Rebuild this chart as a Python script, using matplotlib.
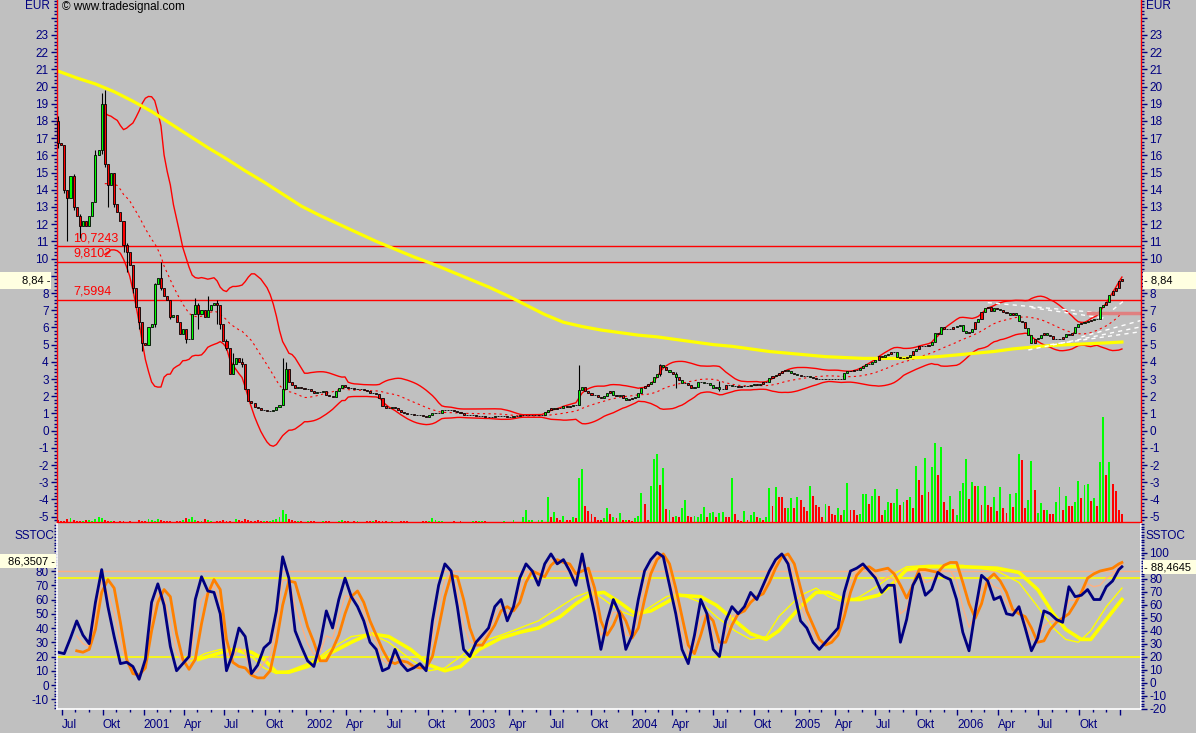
"""Tradesignal style weekly chart: candles, Bollinger bands, long average, volume and SSTOC panel."""

import matplotlib
matplotlib.use("Agg")
import matplotlib.dates as mdates
import matplotlib.pyplot as plt
import numpy as np
import pandas as pd
from matplotlib.patches import Rectangle
from matplotlib.ticker import FixedLocator, FuncFormatter, MultipleLocator
from matplotlib.transforms import blended_transform_factory

W, H = 1196, 733
BG = "#C0C0C0"
NAVY = "#000080"
UP = "#00FF00"
DOWN = "#FF0000"
FS = 8.5

plt.rcParams["font.family"] = ["Liberation Sans", "DejaVu Sans"]

# ---- data (weekly bars) ----
first_date = "2000-06-23"
first_open = 18.0
closes = [
    16.7, 16.6, 14.0, 13.5, 14.8, 13.0, 12.5, 11.9, 12.2, 11.9,
    12.5, 13.3, 16.0, 16.3, 19.0, 15.5, 14.3, 15.0, 13.2, 12.7,
    12.2, 10.8, 10.4, 9.6, 8.3, 7.2, 6.3, 5.1, 5.0, 6.0,
    6.2, 8.5, 8.9, 8.3, 7.8, 7.6, 6.6, 6.7, 6.3, 5.6,
    5.9, 5.3, 5.3, 6.8, 7.3, 6.8, 7.0, 6.6, 7.0, 7.3,
    7.4, 7.3, 6.2, 5.2, 4.8, 3.3, 3.9, 4.2, 4.0, 3.9,
    2.4, 1.7, 1.6, 1.4, 1.3, 1.2, 1.2, 1.15, 1.15, 1.2,
    1.35, 1.5, 2.4, 3.6, 2.8, 2.65, 2.5, 2.55, 2.5, 2.4,
    2.4, 2.3, 2.2, 2.25, 2.25, 2.3, 2.1, 2.0, 1.95, 2.3,
    2.5, 2.65, 2.55, 2.5, 2.45, 2.4, 2.4, 2.4, 2.35, 2.3,
    2.2, 2.2, 2.15, 1.9, 1.45, 1.3, 1.3, 1.35, 1.3, 1.2,
    1.1, 1.0, 0.95, 0.95, 0.9, 0.9, 0.9, 0.85, 0.8, 0.9,
    1.0, 1.0, 1.05, 1.2, 1.2, 1.2, 1.2, 1.15, 1.1, 1.0,
    0.9, 0.9, 0.9, 0.9, 0.85, 0.85, 0.85, 0.8, 0.8, 0.8,
    0.85, 0.85, 0.85, 0.85, 0.8, 0.8, 0.85, 0.85, 0.9, 0.9,
    0.9, 0.9, 0.9, 0.9, 0.9, 0.9, 1.1, 1.2, 1.3, 1.25,
    1.3, 1.3, 1.45, 1.4, 1.45, 1.5, 1.5, 2.35, 2.55, 2.3,
    2.2, 2.1, 2.1, 1.95, 1.9, 2.0, 2.2, 2.3, 2.1, 2.0,
    2.1, 1.9, 1.8, 1.85, 1.9, 1.95, 2.2, 2.5, 2.6, 2.7,
    2.8, 3.1, 3.3, 3.8, 3.7, 3.5, 3.4, 3.3, 3.1, 2.95,
    2.75, 2.75, 2.65, 2.45, 2.55, 2.85, 2.8, 2.75, 2.75, 2.65,
    2.45, 2.55, 2.4, 2.4, 2.65, 2.65, 2.6, 2.6, 2.55, 2.6,
    2.6, 2.6, 2.65, 2.7, 2.65, 2.7, 2.8, 2.85, 3.05, 3.15,
    3.25, 3.35, 3.45, 3.5, 3.45, 3.35, 3.3, 3.25, 3.15, 3.15,
    3.15, 3.1, 3.05, 3.0, 3.0, 3.0, 3.0, 3.0, 3.0, 3.0,
    3.0, 3.0, 3.35, 3.45, 3.45, 3.5, 3.55, 3.65, 3.75, 3.85,
    3.9, 4.0, 4.1, 4.35, 4.3, 4.4, 4.45, 4.55, 4.55, 4.3,
    4.2, 4.25, 4.3, 4.4, 4.6, 4.75, 4.9, 4.9, 4.9, 4.95,
    5.15, 5.65, 5.6, 6.0, 5.9, 5.9, 5.9, 6.0, 6.1, 6.15,
    5.8, 5.65, 5.75, 5.9, 6.3, 6.5, 6.9, 7.1, 7.2, 6.95,
    7.1, 7.05, 7.0, 6.9, 6.85, 6.75, 6.85, 6.75, 6.4, 6.3,
    5.95, 5.55, 5.1, 5.3, 5.4, 5.55, 5.65, 5.55, 5.5, 5.35,
    5.3, 5.3, 5.45, 5.6, 5.55, 5.7, 6.0, 6.2, 6.25, 6.3,
    6.4, 6.45, 6.5, 6.5, 7.2, 7.3, 7.5, 7.9, 8.1, 8.3,
    8.7, 8.84,
]

# long wicks that stand out: bar -> (high, low)
spikes = {
    0: (18.3, 16.4), 2: (15.3, 13.8), 3: (14.0, 11.0), 5: (14.9, 12.8),
    7: (12.6, 11.2), 12: (16.3, 13.9), 14: (19.6, 16.1), 15: (19.8, 15.3),
    16: (15.4, 13.0), 18: (15.0, 13.0), 21: (12.2, 10.4), 22: (10.9, 9.2),
    24: (9.4, 8.0), 26: (6.9, 5.9), 27: (6.3, 4.6), 31: (8.6, 6.0),
    33: (9.8, 8.2), 36: (7.6, 6.5), 41: (5.6, 5.1), 44: (7.7, 6.8),
    45: (7.4, 5.9), 48: (7.8, 6.9), 51: (7.6, 6.2), 52: (7.0, 5.9),
    54: (5.3, 4.7), 56: (4.5, 3.3), 59: (4.2, 3.7), 72: (4.2, 1.5),
    73: (4.0, 2.4), 167: (3.8, 1.5), 193: (3.9, 3.2), 198: (3.4, 2.5),
    212: (2.9, 2.3),
}

volume = [
    2, 1, 1, 3, 4, 2, 1, 1, 1, 2, 2, 1, 3, 5, 4, 2, 1, 1, 1, 0,
    1, 1, 0, 1, 0, 0, 2, 1, 1, 3, 2, 1, 3, 2, 1, 1, 1, 0, 1, 1,
    2, 4, 3, 5, 2, 1, 1, 3, 2, 1, 0, 1, 1, 2, 1, 1, 0, 3, 2, 1,
    3, 2, 1, 1, 2, 1, 1, 1, 1, 2, 3, 5, 12, 8, 3, 2, 1, 1, 1, 0,
    1, 1, 1, 0, 0, 1, 1, 1, 0, 0, 1, 2, 1, 1, 0, 1, 1, 0, 0, 1,
    1, 1, 2, 1, 1, 1, 0, 1, 0, 0, 1, 1, 1, 0, 0, 0, 0, 1, 1, 1,
    4, 2, 1, 1, 0, 0, 0, 1, 0, 1, 0, 0, 0, 1, 1,
    1, 1, 1, 0, 0, 0, 0, 0, 1, 0, 0, 2, 0, 0, 5, 12, 2, 2, 0, 2, 2, 0,
    25, 5, 10, 4, 2, 6, 2, 2, 5, 4, 44, 53, 16, 11, 8, 5, 2, 2, 4, 14,
    8, 5, 4, 9, 2, 2, 2, 1, 4, 6, 29, 18, 2, 36, 63, 68, 37, 54, 13, 12,
    5, 6, 5, 14, 22, 6, 5, 6, 5, 8, 15, 5, 9, 10, 5, 9, 10, 5, 5, 44,
    8, 2, 1, 11, 2, 7, 10, 5, 4, 2, 5, 34, 16, 35, 25, 25, 14, 14, 24, 14,
    25, 22, 15, 11, 36, 26, 17, 15, 5, 18, 16, 8, 7, 14, 7, 12, 39, 12, 12, 7,
    8, 28, 28, 18, 26, 33, 26, 7, 12, 20, 19, 19, 33, 17, 20, 22, 25, 14, 56, 42,
    27, 64, 30, 55, 79, 47, 75, 20, 12, 26, 13, 7, 31, 39, 63, 23, 40, 36, 36, 17,
    36, 17, 15, 25, 11, 35, 14, 9, 28, 15, 29, 68, 62, 14, 22, 61, 32, 9, 19, 12,
    12, 8, 8, 20, 35, 12, 26, 16, 16, 20, 41, 24, 37, 38, 21, 24, 16, 60, 105, 47,
    60, 38, 31, 12, 8,
]
# bar colours from week 157 on, as seen in the volume pane (g = up, r = down)
late_dir_start = 157
late_dir = (
    "grgrrgrrgr" "ggrrrrrrgg" "rgrgrgrrgg" "grrgggrgrg" "rgrggrrggg"
    "grggrggrrg" "rrrgrggrgr" "ggrgrrrggr" "grrrgrrrrg" "rrrgrggrrr"
    "gggrggrrgg" "rggrgrgrgr" "rgrggrgrrg" "rggggrgrgr" "grrgrgrrgr"
    "ggrrggrggr" "grrggrgrrg" "grggrgrggr" "grrrr"
)

# slow yellow average, read every 6th week
yellow_idx = list(range(0, 337, 6)) + [341]
yellow_avg = [
    20.9, 20.5, 20.15, 19.7, 19.15, 18.55, 17.85, 17.15, 16.45, 15.8,
    15.1, 14.45, 13.75, 13.05, 12.5, 12.0, 11.5, 11.0, 10.55, 10.1,
    9.7, 9.25, 8.8, 8.35, 7.85, 7.3, 6.75, 6.3, 6.05, 5.85,
    5.7, 5.55, 5.45, 5.3, 5.15, 5.0, 4.9, 4.75, 4.6, 4.5,
    4.4, 4.3, 4.25, 4.2, 4.2, 4.2, 4.25, 4.3, 4.4, 4.5,
    4.6, 4.75, 4.85, 4.95, 5.0, 5.05, 5.1, 5.15,
]

levels = [10.7243, 9.8102, 7.5994]
level_labels = ["10,7243", "9,8102", "7,5994"]

# white dashed trend lines: (start bar, start value, end bar, end value)
trend_lines = [
    (298, 7.44, 335, 6.83),
    (312, 7.15, 335, 6.55),
    (311, 4.69, 347, 6.03),
    (318, 5.0, 347, 5.75),
    (328, 5.45, 347, 6.4),
    (334, 6.43, 342, 7.6),
]
pink_level = (330, 347, 6.84)

# SSTOC lines read every second week (left scale)
stoc_bars = list(range(0, 341, 2)) + [341]
stoc_fast = [
    23, 22, 33, 45, 35, 29, 58, 81, 55, 34,
    15, 16, 13, 4, 18, 58, 71, 56, 27, 10,
    15, 20, 60, 76, 66, 65, 50, 10, 22, 40,
    34, 8, 14, 26, 30, 52, 90, 75, 38, 27,
    17, 13, 29, 52, 40, 60, 75, 62, 55, 45,
    30, 25, 10, 12, 25, 15, 10, 12, 15, 10,
    45, 70, 85, 80, 55, 25, 20, 30, 35, 40,
    55, 60, 45, 55, 75, 85, 80, 70, 85, 92,
    85, 88, 80, 70, 92, 70, 50, 25, 45, 60,
    50, 25, 35, 60, 80, 88, 93, 90, 70, 50,
    25, 15, 35, 60, 50, 25, 20, 45, 55, 50,
    55, 65, 60, 70, 80, 88, 92, 85, 65, 45,
    40, 30, 25, 30, 35, 40, 65, 80, 82, 85,
    80, 75, 65, 70, 70, 30, 46, 70, 78, 63,
    67, 79, 76, 74, 60, 37, 24, 52, 77, 73,
    60, 62, 50, 49, 55, 40, 24, 33, 52, 50,
    46, 44, 69, 62, 63, 67, 60, 60, 69, 73,
    81, 83,
]
stoc_slow = [
    None, None, None, 24, 23, 25, 39, 65, 74, 68,
    44, 18, 8, 7, 12, 38, 58, 67, 62, 36,
    18, 11, 18, 43, 64, 74, 67, 32, 16, 13,
    12, 7, 5, 5, 10, 30, 56, 73, 72, 57,
    41, 30, 17, 17, 25, 35, 50, 62, 66, 58,
    45, 35, 25, 17, 15, 17, 16, 13, 12, 12,
    20, 40, 62, 77, 76, 60, 40, 28, 28, 35,
    42, 52, 55, 52, 58, 72, 80, 78, 76, 84,
    88, 86, 85, 78, 80, 82, 68, 45, 35, 42,
    52, 45, 33, 40, 60, 78, 88, 92, 85, 68,
    48, 28, 22, 35, 50, 45, 30, 30, 42, 50,
    52, 58, 62, 64, 72, 82, 90, 92, 85, 68,
    52, 42, 32, 28, 30, 35, 48, 65, 77, 82,
    83, 80, 81, 82, 78, 70, 61, 70, 81, 81,
    80, 79, 84, 86, 86, 72, 57, 47, 57, 74,
    78, 73, 65, 53, 50, 48, 40, 30, 31, 39,
    44, 47, 50, 57, 65, 75, 78, 80, 81, 82,
    85, 86,
]
# long-term SSTOC pair (yellow), read at irregular weeks
trend_bars = [45, 51, 56, 62, 66, 70, 74, 80, 84, 87, 94, 100, 106, 113, 119,
              124, 129, 135, 142, 148, 154, 161, 166, 171, 175, 180, 185, 190,
              195, 199, 206, 211, 217, 222, 227, 231, 238, 243, 247, 252, 257,
              263, 268, 272, 279, 290, 301, 308, 314, 319, 323, 328, 331, 336, 341]
trend_thick = [18, 22, 25, 23, 18, 9, 9, 13, 18, 22, 30, 36, 34, 25, 14,
               10, 13, 25, 33, 37, 40, 48, 57, 64, 65, 58, 50, 52,
               58, 63, 62, 56, 45, 36, 32, 38, 55, 65, 65, 60, 60,
               63, 72, 81, 83, 83, 82, 79, 67, 50, 39, 32, 32, 46, 60]
trend_thin_bars = [41, 47, 52, 57, 62, 66, 70, 74, 80, 84, 87, 94, 100, 106, 113,
                   119, 124, 129, 135, 142, 148, 154, 161, 166, 171, 175, 180, 185,
                   190, 195, 199, 206, 211, 217, 222, 227, 231, 238, 243, 247, 252,
                   257, 263, 268, 272, 279, 290, 301, 308, 314, 319, 323, 327, 331,
                   336, 341]
trend_thin = [15, 22, 25, 24, 20, 12, 8, 10, 15, 20, 25, 34, 36, 30, 18,
              10, 12, 20, 30, 35, 40, 45, 55, 62, 66, 60, 52, 48,
              55, 62, 64, 58, 48, 38, 32, 34, 48, 63, 68, 62, 58,
              62, 70, 78, 83, 84, 84, 80, 72, 55, 40, 32, 30, 38,
              55, 68]

last_price_label = "8,84"
stoc_left_label = "86,3507"
stoc_right_label = "88,4645"

# ---- derived series ----
n = len(closes)
dates = pd.date_range(first_date, periods=n, freq="7D")
xd = mdates.date2num(dates)
week = 7.0

c = pd.Series(closes, dtype=float)
opens = c.shift(1).fillna(first_open)
direction = list(np.where(c >= opens, "g", "r"))
direction[late_dir_start:late_dir_start + len(late_dir)] = list(late_dir)
col = [UP if d == "g" else DOWN for d in direction]

mid = c.rolling(20, min_periods=16).mean()
sd = c.rolling(20, min_periods=16).std(ddof=0)
upper, lower = mid + 2 * sd, mid - 2 * sd

fast = pd.Series(stoc_fast, dtype=float)
slow = pd.Series(stoc_slow, dtype=float)
signal = (fast + slow) / 2

# ---- figure ----
fig = plt.figure(figsize=(W / 100, H / 100), dpi=100, facecolor=BG)


def fx(px):
    return px / W


def fy(py):
    return 1 - py / H


x_left = xd[0] - week / 3.12
x_right = xd[0] + (1141 - 58) / 3.12 * week

ax_p = fig.add_axes([fx(57), fy(522), fx(1141) - fx(57), 522 / H])
ax_s = fig.add_axes([fx(57), fy(709), fx(1141) - fx(57), (709 - 524) / H])
for ax in (ax_p, ax_s):
    ax.set_facecolor(BG)
    ax.set_xlim(x_left, x_right)

# price panel
ax_p.set_ylim(-5.31, 25.03)
for lv, lab in zip(levels, level_labels):
    ax_p.axhline(lv, color=DOWN, lw=1, zorder=1)
    ax_p.text(0.0148, lv + 0.12, lab, color=DOWN, fontsize=9, va="bottom",
              transform=blended_transform_factory(ax_p.transAxes, ax_p.transData))

ax_p.plot(xd, upper, color=DOWN, lw=1, zorder=2)
ax_p.plot(xd, lower, color=DOWN, lw=1, zorder=2)
ax_p.plot(xd, mid, color=DOWN, lw=0.8, dashes=(2, 3), zorder=2)
ax_p.plot(xd[yellow_idx], yellow_avg, color="#FFFF00", lw=2.3, zorder=2)

for b0, v0, b1, v1 in trend_lines:
    ax_p.plot([xd[0] + b0 * week, xd[0] + b1 * week], [v0, v1],
              color="white", lw=1, dashes=(3, 3), zorder=2)
b0, b1, pv = pink_level
ax_p.plot([xd[0] + b0 * week, xd[0] + b1 * week], [pv, pv], color="#E08080", lw=2.5, zorder=2)

for i, (hi, lo) in spikes.items():
    ax_p.vlines(xd[i], lo, hi, color="black", lw=0.8, zorder=3)
body_lo = np.minimum(opens, c)
body_h = np.abs(c - opens)
ax_p.bar(xd, body_h, bottom=body_lo, width=4.6, color=col, edgecolor="black",
         linewidth=0.6, zorder=4)

# volume overlay at the bottom of the price panel
ax_v = ax_p.twinx()
ax_v.set_ylim(0, 522)
ax_v.bar(xd, volume, width=4.3, color=col, linewidth=0, zorder=2)
ax_v.axis("off")
ax_v.set_xlim(x_left, x_right)

for side in ("left", "right", "bottom"):
    ax_p.spines[side].set_color(DOWN)
    ax_p.spines[side].set_linewidth(1.0)
ax_p.spines["top"].set_visible(False)
ax_p.yaxis.set_major_locator(FixedLocator(list(range(-5, 25))))
ax_p.yaxis.set_minor_locator(MultipleLocator(0.2))
ax_p.yaxis.set_major_formatter(FuncFormatter(
    lambda v, p: "" if round(v) in (9, 24) else str(int(round(v)))))
ax_p.tick_params(axis="y", which="both", left=True, right=True, labelleft=True,
                 labelright=True, colors=NAVY, labelsize=FS, width=1, pad=2)
ax_p.tick_params(axis="y", which="major", length=4)
ax_p.tick_params(axis="y", which="minor", length=2)
ax_p.tick_params(axis="x", bottom=False, labelbottom=False)

# stochastic panel
ax_s.set_ylim(-16.84, 113.0)
ax_s.axhline(80, color="#FFB080", lw=1)
ax_s.axhline(75, color="#FFFF00", lw=1.2)
ax_s.axhline(20, color="#FFFF00", lw=1.2)
ax_s.plot(xd[trend_thin_bars], trend_thin, color="#FFFF00", lw=1)
ax_s.plot(xd[trend_bars], trend_thick, color="#FFFF00", lw=2.6)
ax_s.plot(xd[stoc_bars], signal, color="#FFB080", lw=1)
ax_s.plot(xd[stoc_bars], slow, color="#FF8000", lw=2)
ax_s.plot(xd[stoc_bars], fast, color=NAVY, lw=2)

ax_s.yaxis.set_major_locator(FixedLocator(list(range(-10, 91, 10))))
ax_s.yaxis.set_minor_locator(MultipleLocator(2))
ax_s.yaxis.set_major_formatter(FuncFormatter(lambda v, p: "" if round(v) == 90 else str(int(round(v)))))
ax_s.tick_params(axis="y", which="both", colors=NAVY, labelsize=FS, width=1, pad=2)
ax_s.tick_params(axis="y", which="major", length=4)
ax_s.tick_params(axis="y", which="minor", length=2)

ax_r = ax_s.twinx()
ax_r.set_ylim(-20.2, 122.1)
ax_r.yaxis.set_major_locator(FixedLocator(list(range(-20, 101, 10))))
ax_r.yaxis.set_minor_locator(MultipleLocator(2))
ax_r.yaxis.set_major_formatter(FuncFormatter(lambda v, p: "" if round(v) == 90 else str(int(round(v)))))
ax_r.tick_params(axis="y", which="both", colors=NAVY, labelsize=FS, width=1, pad=2)
ax_r.tick_params(axis="y", which="major", length=4)
ax_r.tick_params(axis="y", which="minor", length=2)
for sp in ax_r.spines.values():
    sp.set_visible(False)

for side in ("left", "bottom", "right"):
    ax_s.spines[side].set_color("white")
    ax_s.spines[side].set_linewidth(1.2)
ax_s.spines["top"].set_visible(False)

# month ticks up to the first month after the last bar, labels only through 2006
month_starts = pd.date_range("2000-07-01", "2007-01-01", freq="MS")
quarter_starts = [d for d in month_starts if d.month in (1, 4, 7, 10)]
months = {4: "Apr", 7: "Jul", 10: "Okt"}
label_end = mdates.date2num(pd.Timestamp("2006-12-01"))


def date_label(v, p):
    if v > label_end:
        return ""
    d = mdates.num2date(v)
    return str(d.year) if d.month == 1 else months[d.month]


ax_s.xaxis.set_major_locator(FixedLocator(mdates.date2num(quarter_starts)))
ax_s.xaxis.set_minor_locator(FixedLocator(mdates.date2num(month_starts)))
ax_s.xaxis.set_major_formatter(FuncFormatter(date_label))
ax_s.tick_params(axis="x", which="both", colors=NAVY, labelsize=FS, width=1, pad=3)
ax_s.tick_params(axis="x", which="major", length=4)
ax_s.tick_params(axis="x", which="minor", length=2)
for lab in ax_s.get_xticklabels():
    lab.set_horizontalalignment("left")

# header and side texts
fig.text(fx(62), fy(7), "\u00a9 www.tradesignal.com", fontsize=FS, color="black", va="center")
fig.text(fx(50), fy(6), "EUR", fontsize=FS, color=NAVY, va="center", ha="right")
fig.text(fx(1146), fy(6), "EUR", fontsize=FS, color=NAVY, va="center", ha="left")
fig.text(fx(54), fy(536), "SSTOC", fontsize=FS, color=NAVY, va="center", ha="right")
fig.text(fx(1146), fy(536), "SSTOC", fontsize=FS, color=NAVY, va="center", ha="left")


def value_box(x0, x1, yc, h, txt, align):
    fig.patches.append(Rectangle((fx(x0), fy(yc + h / 2)), fx(x1) - fx(x0), h / H,
                                 transform=fig.transFigure, facecolor="#FFFFE1",
                                 edgecolor="none", zorder=5))
    if align == "right":
        fig.text(fx(x1 - 1), fy(yc), txt + " -", fontsize=8, color="black",
                 va="center", ha="right", zorder=6)
    else:
        fig.text(fx(x0 + 1), fy(yc), "- " + txt, fontsize=8, color="black",
                 va="center", ha="left", zorder=6)


value_box(0, 51, 280.5, 17, last_price_label, "right")
value_box(1143, 1196, 280.5, 17, last_price_label, "left")
value_box(0, 56, 561, 14, stoc_left_label, "right")
value_box(1143, 1196, 567, 14, stoc_right_label, "left")

fig.savefig("out.png", dpi=100, facecolor=BG)
